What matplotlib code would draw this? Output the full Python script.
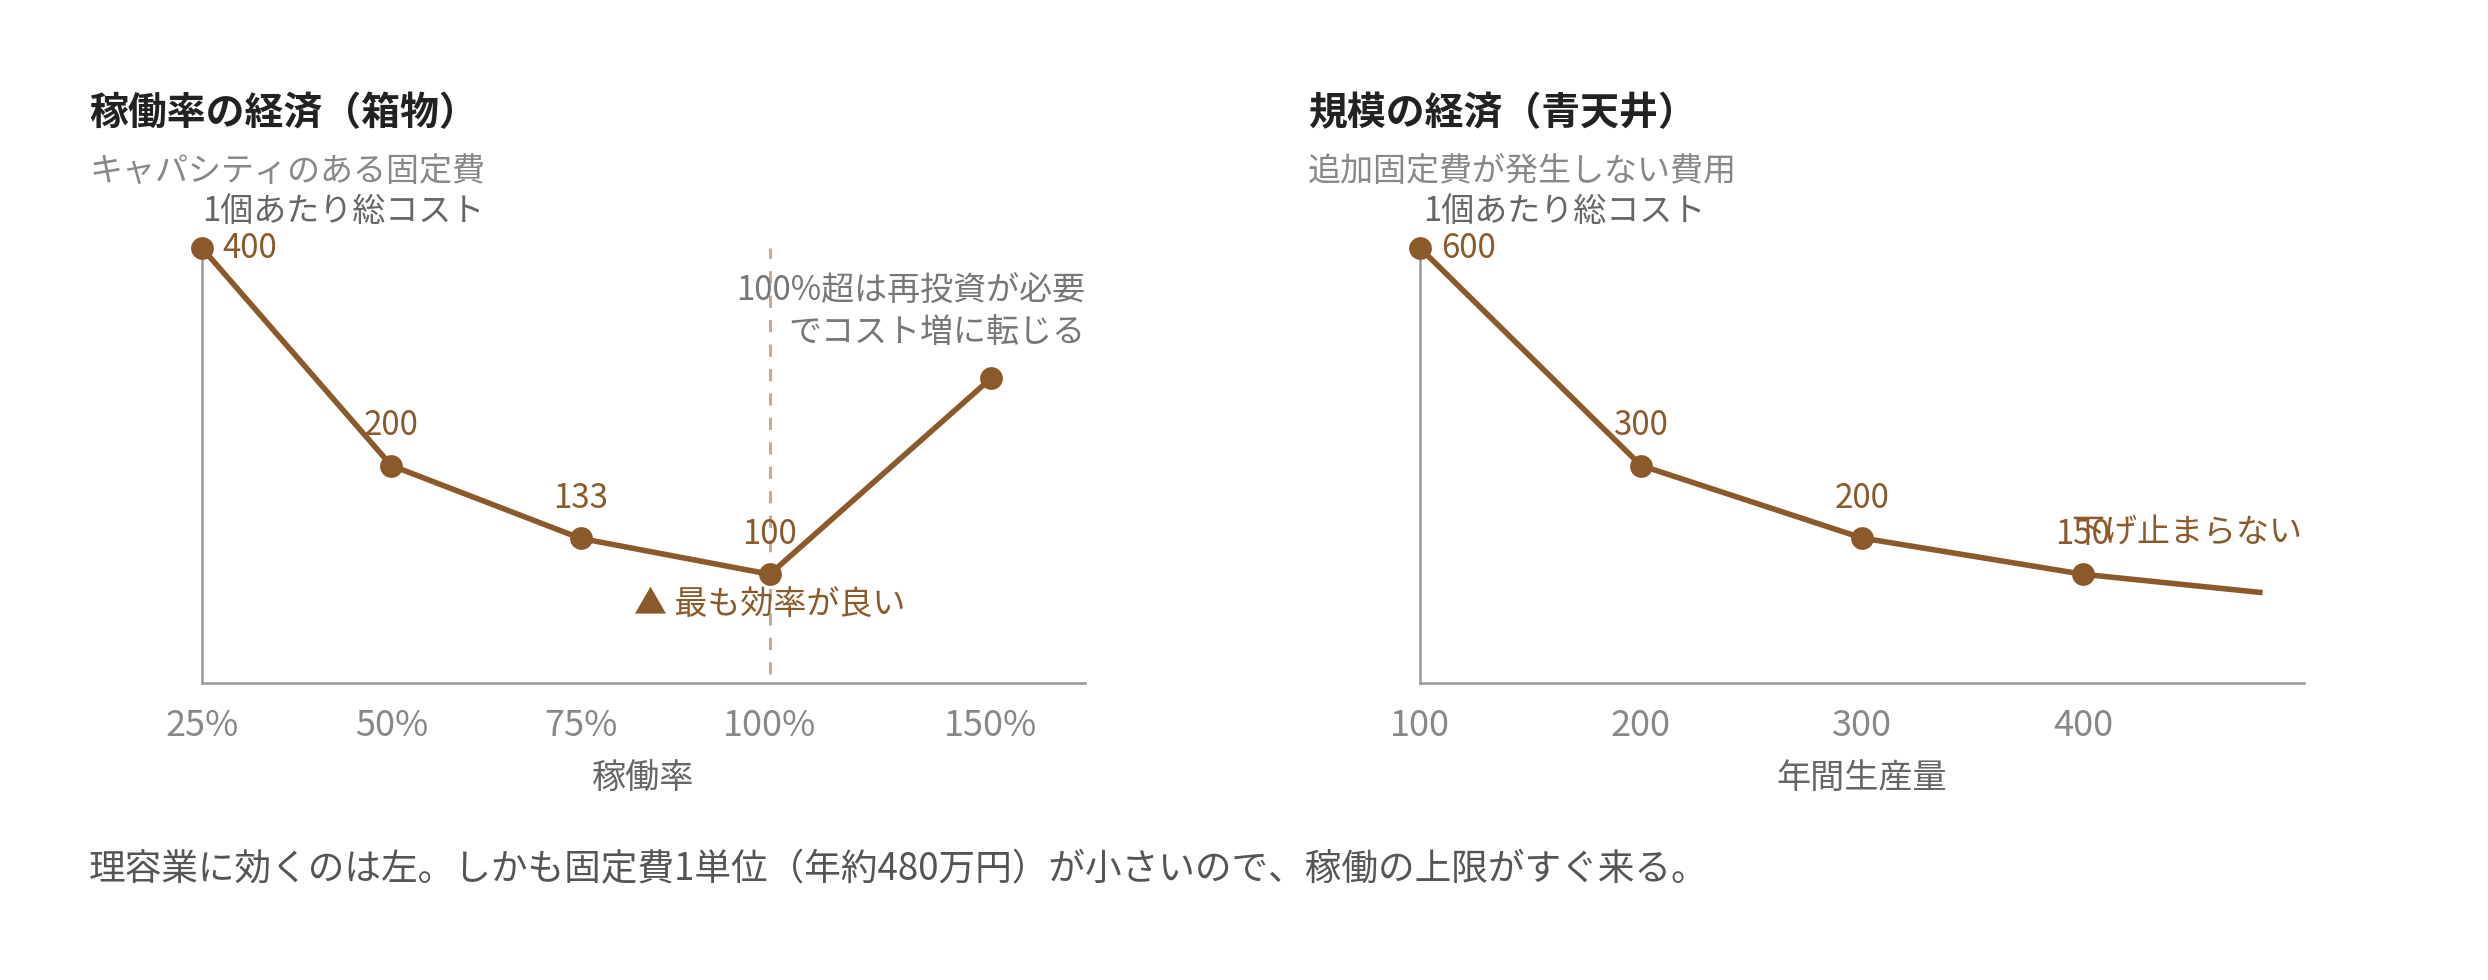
import numpy as np
import matplotlib
matplotlib.use("Agg")
import matplotlib.pyplot as plt

plt.rcParams['font.family'] = ['Noto Sans CJK JP', 'DejaVu Sans']

# ---- data ----
util = [25, 50, 75, 100, 150]
util_labels = ['25%', '50%', '75%', '100%', '150%']
unit_cost_util = [400, 200, 133, 100, 280]
util_value_labels = ['400', '200', '133', '100']

qty = [100, 200, 300, 400, 480]
qty_ticks = [100, 200, 300, 400]
unit_cost_qty = [600, 300, 200, 150, 125]
qty_value_labels = ['600', '300', '200', '150']

BROWN = '#8B5A2B'
W, H = 2488, 980
fig = plt.figure(figsize=(W / 200, H / 200), dpi=200)
fig.patch.set_facecolor('white')

def px_rect(x0, y_top, x1, y_bot):
    return [x0 / W, (H - y_bot) / H, (x1 - x0) / W, (y_bot - y_top) / H]

# piecewise linear x scale for left chart (25-100 evenly, beyond compressed)
K = 1.168 / 50.0
def fwd(u):
    u = np.asarray(u, dtype=float)
    return np.where(u <= 100, (u - 25) / 25.0, 3 + (u - 100) * K)
def inv(v):
    v = np.asarray(v, dtype=float)
    return np.where(v <= 3, v * 25.0 + 25, 100 + (v - 3) / K)

SEC = 11.9

def style_axes(ax):
    for s in ['top', 'right']:
        ax.spines[s].set_visible(False)
    for s in ['left', 'bottom']:
        ax.spines[s].set_color('#999999')
        ax.spines[s].set_linewidth(0.9)
    ax.set_yticks([])
    ax.tick_params(axis='x', length=0, labelsize=13, labelcolor='#888888', pad=9)
    ax.set_facecolor('none')

# ---- left chart ----
ax1 = fig.add_axes(px_rect(202, 248, 1085, 683))
ax1.set_xscale('function', functions=(fwd, inv))
ax1.set_xlim(25, 171.3)
ax1.set_ylim(0, 400)
style_axes(ax1)
ax1.set_xticks(util)
ax1.set_xticklabels(util_labels)
ax1.set_xlabel('稼働率', fontsize=12.3, color='#666666', labelpad=6)
ax1.axvline(100, ymin=0.02, ymax=1.0, color='#C9AB92', lw=1.1, ls=(0, (4, 4)), zorder=1)
ax1.plot(util, unit_cost_util, color=BROWN, lw=2.0, marker='o', ms=7.2, clip_on=False, zorder=3)
for i, lab in enumerate(util_value_labels):
    if i == 0:
        ax1.annotate(lab, (util[i], unit_cost_util[i]), xytext=(7.5, 0), textcoords='offset points',
                     ha='left', va='center', fontsize=SEC, color=BROWN)
    else:
        ax1.annotate(lab, (util[i], unit_cost_util[i]), xytext=(0, 14.4), textcoords='offset points',
                     ha='center', va='center', fontsize=SEC, color=BROWN)
ax1.annotate('▲ 最も効率が良い', (util[3], unit_cost_util[3]), xytext=(0, -10.8), textcoords='offset points',
             ha='center', va='center', fontsize=SEC, color=BROWN)
ax1.text(1.0, 0.853, '100%超は再投資が必要\nでコスト増に転じる', transform=ax1.transAxes,
         ha='right', va='center', fontsize=SEC, color='#777777', linespacing=1.22)
ax1.text(0.0, 1.085, '1個あたり総コスト', transform=ax1.transAxes, ha='left', va='center',
         fontsize=SEC, color='#666666')

# ---- right chart ----
ax2 = fig.add_axes(px_rect(1420, 248, 2304, 683))
ax2.set_xlim(100, 500)
ax2.set_ylim(0, 600)
style_axes(ax2)
ax2.set_xticks(qty_ticks)
ax2.set_xticklabels([str(q) for q in qty_ticks])
ax2.set_xlabel('年間生産量', fontsize=12.3, color='#666666', labelpad=6)
ax2.plot(qty, unit_cost_qty, color=BROWN, lw=2.0, marker='o', ms=7.2,
         markevery=list(range(len(qty_value_labels))), clip_on=False, zorder=3)
for i, lab in enumerate(qty_value_labels):
    if i == 0:
        ax2.annotate(lab, (qty[i], unit_cost_qty[i]), xytext=(7.5, 0), textcoords='offset points',
                     ha='left', va='center', fontsize=SEC, color=BROWN)
    else:
        ax2.annotate(lab, (qty[i], unit_cost_qty[i]), xytext=(0, 14.4), textcoords='offset points',
                     ha='center', va='center', fontsize=SEC, color=BROWN)
ax2.text(0.998, 0.345, '下げ止まらない', transform=ax2.transAxes, ha='right', va='center',
         fontsize=SEC, color=BROWN)
ax2.text(0.004, 1.085, '1個あたり総コスト', transform=ax2.transAxes, ha='left', va='center',
         fontsize=SEC, color='#666666')

# ---- titles and notes ----
fig.text(89 / W, 1 - 114 / H, '稼働率の経済（箱物）', fontsize=14, fontweight='bold',
         color='#222222', ha='left', va='center')
fig.text(89 / W, 1 - 172 / H, 'キャパシティのある固定費', fontsize=SEC, color='#888888',
         ha='left', va='center')
fig.text(1308 / W, 1 - 114 / H, '規模の経済（青天井）', fontsize=14, fontweight='bold',
         color='#222222', ha='left', va='center')
fig.text(1308 / W, 1 - 172 / H, '追加固定費が発生しない費用', fontsize=SEC, color='#888888',
         ha='left', va='center')
fig.text(89 / W, 1 - 870 / H,
         '理容業に効くのは左。しかも固定費1単位（年約480万円）が小さいので、稼働の上限がすぐ来る。',
         fontsize=13.2, color='#555555', ha='left', va='center')

fig.savefig('out.png', dpi=200, facecolor='white')
